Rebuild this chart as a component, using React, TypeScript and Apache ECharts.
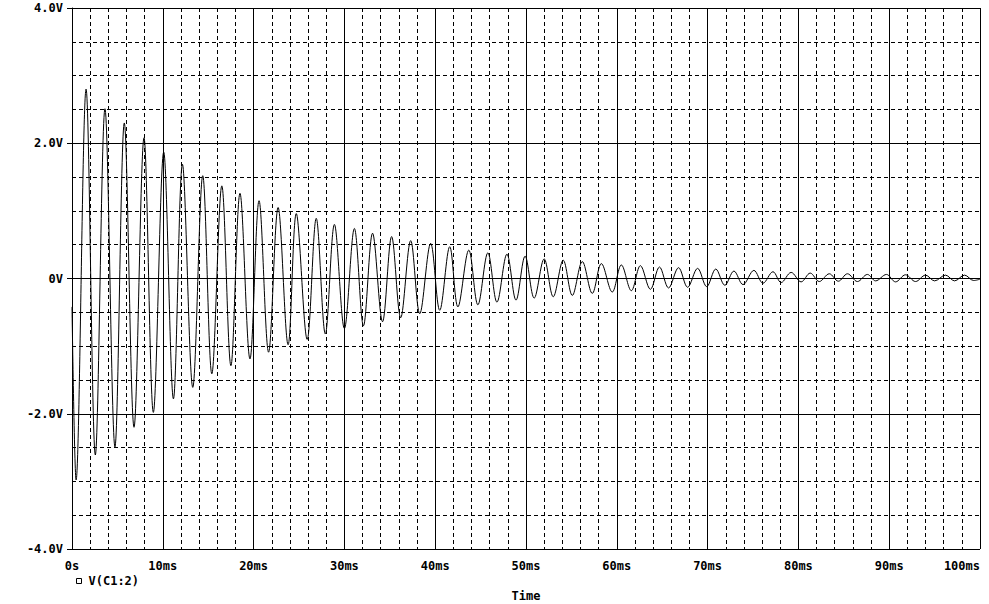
import React, { useEffect, useRef } from "react";
import * as echarts from "echarts";

// Extrema (and end points) of V(C1:2)
const timeMs = [
  0, 0.45, 1.55, 2.57, 3.63, 4.73, 5.76, 6.83, 7.93, 8.96,
  10.1, 11.17, 12.16, 13.3, 14.4, 15.4, 16.5, 17.5, 18.5, 19.6,
  20.6, 21.65, 22.7, 23.8, 24.7, 25.9, 26.9, 27.9, 28.9, 30.0,
  31.1, 32.1, 33.1, 34.2, 35.2, 36.2, 37.3, 38.3, 39.5, 40.5,
  41.6, 42.5, 43.7, 44.7, 45.8, 46.8, 47.9, 48.9, 49.9, 50.9,
  52.0, 53.0, 54.1, 55.1, 56.2, 57.3, 58.3, 59.5, 60.5, 61.6,
  62.6, 63.7, 64.7, 65.7, 66.8, 67.8, 68.9, 69.9, 70.9, 71.9,
  72.9, 73.9, 75.1, 76.1, 77.2, 78.1, 79.2, 80.3, 81.3, 82.3,
  83.4, 84.4, 85.4, 86.5, 87.6, 88.5, 89.7, 90.7, 91.8, 92.9,
  94.0, 95.0, 96.2, 97.2, 98.3, 99.3, 100,
];
const voltsC1 = [
  -0.42, -2.98, 2.8, -2.61, 2.51, -2.49, 2.3, -2.2, 2.08, -1.98,
  1.87, -1.78, 1.69, -1.61, 1.52, -1.41, 1.37, -1.29, 1.26, -1.19,
  1.15, -1.09, 1.05, -0.98, 0.96, -0.9, 0.89, -0.82, 0.8, -0.74,
  0.74, -0.7, 0.67, -0.64, 0.62, -0.58, 0.56, -0.52, 0.52, -0.47,
  0.47, -0.42, 0.42, -0.39, 0.38, -0.35, 0.36, -0.32, 0.33, -0.29,
  0.29, -0.27, 0.27, -0.25, 0.25, -0.22, 0.22, -0.2, 0.2, -0.18,
  0.19, -0.16, 0.17, -0.14, 0.16, -0.13, 0.15, -0.12, 0.14, -0.1,
  0.11, -0.09, 0.12, -0.07, 0.1, -0.06, 0.09, -0.05, 0.08, -0.045,
  0.07, -0.04, 0.07, -0.045, 0.06, -0.035, 0.06, -0.05, 0.055, -0.045,
  0.05, -0.035, 0.05, -0.035, 0.05, -0.03, -0.01,
];

const xTickValues = [0, 10, 20, 30, 40, 50, 60, 70, 80, 90, 100];
const xTickLabels = ["0s", "10ms", "20ms", "30ms", "40ms", "50ms", "60ms", "70ms", "80ms", "90ms", "100ms"];
const yTickValues = [-4, -2, 0, 2, 4];
const yTickLabels = ["-4.0V", "-2.0V", "0V", "2.0V", "4.0V"];

const seriesName = "V(C1:2)";
const xAxisTitle = "Time";

const FONT = "'DejaVu Sans Mono', monospace";

export default function App() {
  const ref = useRef<HTMLDivElement>(null);

  useEffect(() => {
    if (!ref.current) return;
    const chart = echarts.init(ref.current, undefined, { renderer: "svg" });
    const data = timeMs.map((t, i) => [t, voltsC1[i]]);
    const labelFor = (vals: number[], labels: string[], v: number) => {
      const i = vals.findIndex((x) => Math.abs(x - v) < 1e-6);
      return i >= 0 ? labels[i] : "";
    };
    chart.setOption({
      animation: false,
      backgroundColor: "#ffffff",
      grid: {
        left: 72,
        right: 9,
        top: 8,
        bottom: 55,
        containLabel: false,
        outerBoundsMode: "none",
      },
      legend: {
        left: 76,
        top: 575,
        padding: 0,
        icon: "rect",
        itemWidth: 5,
        itemHeight: 5,
        itemStyle: { color: "#ffffff", borderColor: "#000000", borderWidth: 1 },
        textStyle: {
          fontFamily: FONT,
          fontSize: 12,
          fontWeight: "bold",
          color: "#000",
          padding: [0, 0, 0, 2],
        },
        data: [seriesName],
      },
      xAxis: {
        type: "value",
        min: 0,
        max: 100,
        interval: 10,
        name: xAxisTitle,
        nameLocation: "middle",
        nameGap: 41,
        nameTextStyle: { fontFamily: FONT, fontSize: 12, fontWeight: "bold", color: "#000" },
        axisLine: { show: true, lineStyle: { color: "#000", width: 1 } },
        axisTick: { show: true, length: 5, lineStyle: { color: "#000" } },
        axisLabel: {
          margin: 11,
          fontFamily: FONT,
          fontSize: 12,
          fontWeight: "bold",
          color: "#000",
          alignMaxLabel: "right",
          formatter: (v: number) => labelFor(xTickValues, xTickLabels, v),
        },
        splitLine: { show: true, lineStyle: { color: "#000", width: 1 } },
        minorTick: { show: false, splitNumber: 5 },
        minorSplitLine: { show: true, lineStyle: { color: "#000", width: 1, type: [4, 3] } },
      },
      yAxis: {
        type: "value",
        min: -4,
        max: 4,
        interval: 2,
        axisLine: { show: true, lineStyle: { color: "#000", width: 1 } },
        axisTick: { show: true, length: 5, lineStyle: { color: "#000" } },
        axisLabel: {
          margin: 9,
          fontFamily: FONT,
          fontSize: 12,
          fontWeight: "bold",
          color: "#000",
          formatter: (v: number) => labelFor(yTickValues, yTickLabels, v),
        },
        splitLine: { show: true, lineStyle: { color: "#000", width: 1 } },
        minorTick: { show: false, splitNumber: 4 },
        minorSplitLine: { show: true, lineStyle: { color: "#000", width: 1, type: [4, 3] } },
      },
      series: [
        {
          name: seriesName,
          type: "line",
          data,
          showSymbol: false,
          symbol: "none",
          smooth: 0.35,
          lineStyle: { color: "#000", width: 1 },
          itemStyle: { color: "#000" },
          z: 5,
        },
      ],
    });
    return () => chart.dispose();
  }, []);

  return (
    <div
      ref={ref}
      style={{ position: "fixed", left: 0, top: 0, width: 989, height: 604, background: "#fff" }}
    />
  );
}
